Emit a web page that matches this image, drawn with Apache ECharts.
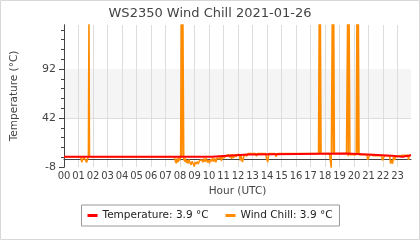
<!DOCTYPE html>
<html><head><meta charset="utf-8">
<script src="https://cdn.jsdelivr.net/npm/echarts@6/dist/echarts.min.js"></script>
<style>html,body{margin:0;padding:0;background:#fff}#c{width:420px;height:240px}</style>
</head><body><div id="c"></div>
<script>
const titleText = 'WS2350 Wind Chill 2021-01-26';
const seriesNames = ['Temperature', 'Wind Chill'];
const currentValues = [3.9, 3.9];
const hourLabels = ['00','01','02','03','04','05','06','07','08','09','10','11','12','13','14','15','16','17','18','19','20','21','22','23'];
const yMajorTicks = [-8, 42, 92];
const yMinorTicks = [2, 12, 22, 32, 52, 62, 72, 82, 102, 112, 122, 132];

const tempHours  = [0, 10.2, 11.25, 12.7, 19.5, 21.3, 22.6, 23.35, 23.93];
const tempValues = [2.4, 3.5, 4.7, 5.9, 4.6, 3.6, 2.5, 3.9, 3.9];

const chillHours = [
  0, 1.15, 1.22, 1.3, 1.37, 1.5, 1.56, 1.64, 1.68, 1.72, 1.76, 1.8,
  4.8, 4.85, 4.9,
  7.6, 7.68, 7.74, 7.8, 7.86, 7.92, 7.98, 8.04, 8.09, 8.14, 8.2, 8.26,
  8.32, 8.38, 8.44, 8.5, 8.56, 8.62, 8.68, 8.76, 8.84, 8.9, 8.98, 9.04,
  9.1, 9.18, 9.26, 9.34, 9.42, 9.5, 9.58, 9.64, 9.72, 9.8, 9.88, 9.96,
  10.04, 10.12, 10.2, 10.26, 10.32, 10.4, 10.48, 10.56, 10.62, 10.7, 10.78, 10.86,
  10.94, 11.02, 11.1, 11.18, 11.28, 11.34, 11.42, 11.5, 11.56, 11.62, 11.7, 11.78,
  11.86, 11.94, 12.1, 12.16, 12.22, 12.3, 12.38, 12.44, 12.55, 12.6, 12.66, 12.7,
  13.2, 13.27, 13.34, 13.9, 13.98, 14.05, 14.12, 14.55, 14.62, 14.7, 14.76,
  17.55, 17.6, 17.65, 17.68, 17.73,
  18.3, 18.43, 18.5, 18.56, 18.6, 18.65,
  19.48, 19.5, 19.56, 19.6, 19.66, 19.72,
  20.15, 20.2, 20.26, 20.3, 20.35,
  20.88, 20.95, 21.02, 21.08, 21.3,
  21.9, 21.96, 22.04, 22.1,
  22.45, 22.52, 22.6, 22.66, 22.72, 22.8, 22.88,
  23.35, 23.7, 23.76, 23.82, 23.93
];
const chillValues = [
  2.4, 2.4, -3.0, -3.6, 2.4, 2.4, -3.4, -3.8, 2.4, 150, 2.4, 2.4,
  2.4, 0.6, 2.4,
  2.4, -2.0, -4.2, 0.8, -3.2, 1.2, -1.5, 2.4, 150, 2.0, 150, 0.5,
  -2.5, 0.8, -3.8, -1.0, -4.6, -0.4, -3.0, -5.8, -2.2, -4.2, -7.5, -3.0,
  -5.2, -2.6, -4.8, -1.6, -3.6, -0.6, -3.2, 0.6, -2.6, 1.0, -3.2, -1.0,
  -4.2, 0.0, -2.2, 1.6, -2.6, 0.6, -3.2, 1.6, 3.5, 0.0, 3.0, -1.6,
  3.5, 1.0, -0.6, 3.5, 2.0, 4.7, 1.6, 4.7, 0.2, 4.7, 1.2, 4.7,
  2.2, 4.7, 4.7, -1.5, 4.7, -3.0, 1.0, 4.7, 4.7, 3.0, 4.7, 5.9,
  5.9, 3.0, 5.9, 5.9, 0.0, -3.0, 5.9, 5.9, 2.5, 3.0, 5.9,
  5.9, 150, 5.9, 150, 5.9,
  5.9, -9, 150, 5.9, 150, 5.9,
  5.9, 4.6, 150, 3.0, 150, 4.6,
  4.6, 150, 4.6, 150, 4.6,
  4.6, -0.6, 1.0, 4.6, 3.6,
  3.6, -1.2, 0.5, 3.6,
  3.6, -4.5, -1.0, -4.7, 2.5, -0.8, 2.5,
  3.9, 3.9, -0.6, 3.9, 3.9
];

const zip = (a, b) => a.map((v, i) => [v, b[i]]);
const FONT = 'DejaVu Sans';
const TXT = '#444';
const GRID_LINE = '#dddddd';

const chart = echarts.init(document.getElementById('c'), null, {renderer: 'canvas'});
chart.setOption({
  animation: false,
  backgroundColor: '#fff',
  textStyle: {fontFamily: FONT},
  title: {
    text: titleText, left: 'center', top: 2,
    textStyle: {fontFamily: FONT, fontSize: 13, fontWeight: 'normal', color: TXT}
  },
  graphic: [{
    type: 'rect', silent: true, z: 100,
    shape: {x: 0.5, y: 0.5, width: 419, height: 239},
    style: {fill: 'none', stroke: '#d8d8d8', lineWidth: 1}
  }],
  legend: {
    data: seriesNames,
    bottom: 14, left: 'center',
    borderColor: '#999', borderWidth: 1,
    padding: [5, 7, 5, 6],
    itemGap: 17, itemWidth: 10, itemHeight: 3,
    icon: 'rect',
    formatter: name => name + ': ' + currentValues[seriesNames.indexOf(name)] + ' °C',
    textStyle: {fontFamily: FONT, fontSize: 10.5, color: '#222'}
  },
  grid: {left: 64, right: 9, top: 25, bottom: 73, containLabel: false},
  xAxis: {
    type: 'value', min: 0, max: 23.93, interval: 1,
    name: 'Hour (UTC)', nameLocation: 'middle', nameGap: 14,
    nameTextStyle: {fontFamily: FONT, fontSize: 10.5, color: TXT},
    axisLine: {show: true, lineStyle: {color: '#444', width: 1}},
    axisTick: {show: false},
    axisLabel: {
      fontFamily: FONT, fontSize: 10, color: TXT, margin: 4,
      showMaxLabel: false,
      formatter: v => (Number.isInteger(v) ? hourLabels[v] : '')
    },
    splitLine: {show: true, showMinLine: false, showMaxLine: false, lineStyle: {color: GRID_LINE, width: 1}}
  },
  yAxis: [{
    type: 'value', min: -8, max: 137, interval: 50,
    name: 'Temperature (°C)', nameLocation: 'middle', nameGap: 44,
    nameTextStyle: {fontFamily: FONT, fontSize: 10.5, color: TXT},
    axisLine: {show: true, lineStyle: {color: '#444', width: 1}},
    axisTick: {show: true, length: 5, customValues: yMajorTicks, lineStyle: {color: '#444'}},
    axisLabel: {fontFamily: FONT, fontSize: 11, color: TXT, margin: 8, customValues: yMajorTicks},
    splitLine: {show: true, showMinLine: false, showMaxLine: false, lineStyle: {color: GRID_LINE, width: 1}},
    splitArea: {show: true, areaStyle: {color: ['rgba(0,0,0,0)', '#f5f5f5', 'rgba(0,0,0,0)']}}
  }, {
    type: 'value', min: -8, max: 137, interval: 10, position: 'left', offset: 0,
    axisLine: {show: true, lineStyle: {color: '#444', width: 1}},
    axisTick: {show: true, length: 3, customValues: yMinorTicks, lineStyle: {color: '#444'}},
    axisLabel: {show: false},
    splitLine: {show: false},
    splitArea: {show: false}
  }],
  series: [{
    name: seriesNames[0], type: 'line', yAxisIndex: 0, z: 3,
    step: 'end', showSymbol: false, symbol: 'none',
    data: zip(tempHours, tempValues),
    itemStyle: {color: '#ff0000'},
    lineStyle: {color: '#ff0000', width: 2}
  }, {
    name: seriesNames[1], type: 'line', yAxisIndex: 0, z: 2,
    showSymbol: false, symbol: 'none',
    data: zip(chillHours, chillValues),
    itemStyle: {color: '#ff8c00'},
    lineStyle: {color: '#ff8c00', width: 1.5}
  }]
});
</script>
</body></html>
